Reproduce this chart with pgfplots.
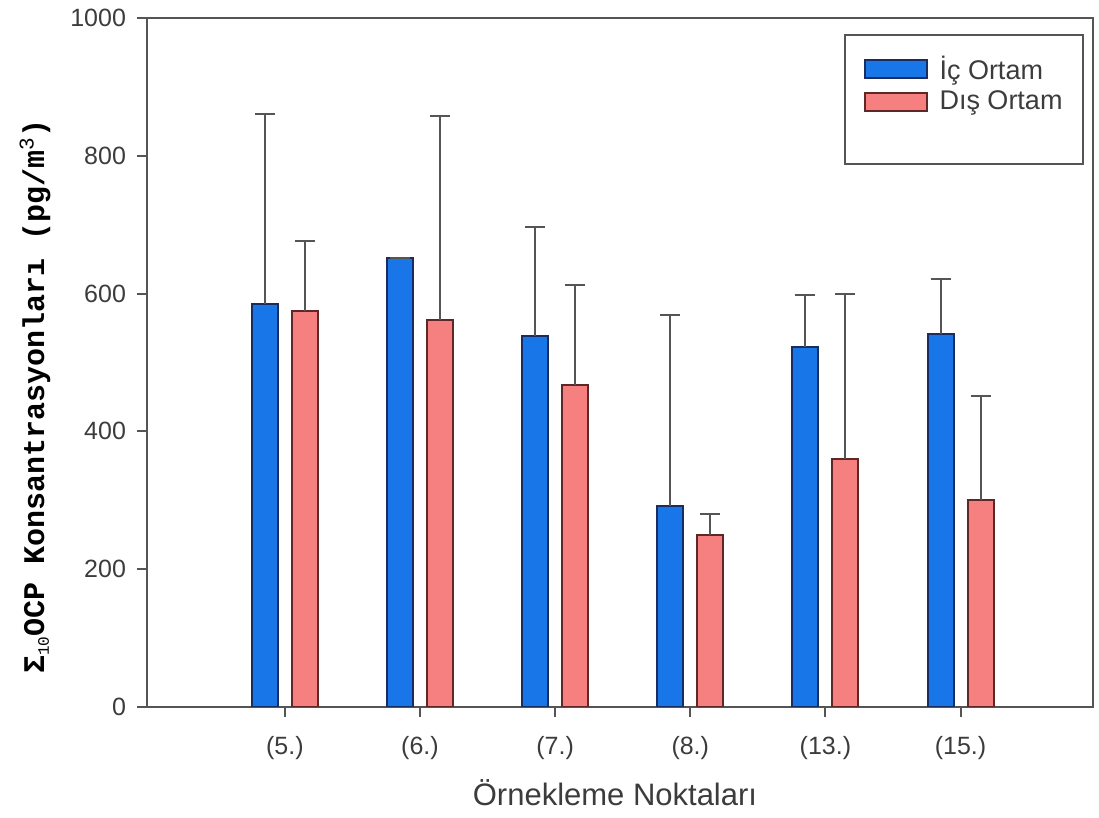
\documentclass[border=0pt]{standalone}
\usepackage{pgfplots}
\usepackage{pgfplotstable}
\pgfplotsset{compat=1.18}
\usepackage{fontspec}
\setmainfont{Liberation Sans}
\newfontfamily\monofont{Liberation Mono}
\definecolor{icblue}{RGB}{24,118,232}
\definecolor{icedge}{RGB}{25,45,95}
\definecolor{disred}{RGB}{246,128,128}
\definecolor{disedge}{RGB}{95,40,40}
\definecolor{axgray}{RGB}{85,85,85}
\definecolor{txtgray}{RGB}{60,60,60}
\pgfplotstableread{
x ic icerr dis diserr
0 585 276 575 102
1 652 0 562 296
2 539 158 467 145
3 292 277 249 31
4 523 75 360 240
5 542 79 301 150
}\datatable
\begin{document}
\begin{tikzpicture}
\useasboundingbox (-73.5pt,-55.5pt) rectangle (476pt,353.5pt);
\begin{axis}[
  scale only axis, width=473pt, height=344.5pt,
  ybar, bar width=13pt,
  xmin=-1.02, xmax=5.98, ymin=0, ymax=1000,
  xtick={0,...,5}, xticklabels={(5.),(6.),(7.),(8.),(13.),(15.)},
  ytick={0,200,...,1000},
  tick pos=left, tick align=outside, major tick length=5pt,
  axis line style={axgray, line width=1pt},
  every tick/.style={axgray, line width=1pt},
  tick label style={font=\fontsize{12.5}{14}\selectfont, text=txtgray},
  xticklabel style={yshift=-6pt},
  yticklabel style={xshift=-2pt},
  /pgf/number format/assume math mode=true,
  /pgf/number format/1000 sep={},
  xlabel={Örnekleme Noktaları},
  xlabel style={at={(axis description cs:0.4947,-0.1248)}, anchor=center, font=\fontsize{15.5}{17}\selectfont, text=txtgray},
  ylabel={{\monofont\bfseries Σ\raisebox{-0.3ex}{\fontsize{8}{8}\selectfont\mdseries 10}OCP Konsantrasyonları (pg/m\textsuperscript{\mdseries 3})}},
  ylabel style={at={(axis description cs:-0.1184,0.4507)}, anchor=center, font=\fontsize{15}{17}\selectfont, text=black},
  legend style={at={(axis description cs:0.757,0.951)}, anchor=north west, draw=none, fill=none, inner sep=0pt, row sep=0pt, column sep=4pt, font=\fontsize{13.5}{15}\selectfont, text=txtgray},
  legend cell align=left,
]
\addplot[fill=icblue, draw=icedge, line width=1pt, bar shift=-10pt,
  legend image code/.code={\draw[fill=icblue, draw=icedge, line width=1pt] (0pt,-4.5pt) rectangle (31pt,4.5pt);},
  error bars/.cd, y dir=plus, y explicit,
  error bar style={axgray, line width=1pt},
  error mark options={rotate=90, axgray, line width=1pt, mark size=5pt}]
  table[x=x, y=ic, y error=icerr] {\datatable};
\addlegendentry{İç Ortam}
\addplot[fill=disred, draw=disedge, line width=1pt, bar shift=10pt,
  legend image code/.code={\draw[fill=disred, draw=disedge, line width=1pt] (0pt,-4.5pt) rectangle (31pt,4.5pt);},
  error bars/.cd, y dir=plus, y explicit,
  error bar style={axgray, line width=1pt},
  error mark options={rotate=90, axgray, line width=1pt, mark size=5pt}]
  table[x=x, y=dis, y error=diserr] {\datatable};
\addlegendentry{Dış Ortam}
\draw[axgray, line width=1pt] (rel axis cs:0.738,0.975) rectangle (rel axis cs:0.9894,0.788);
\end{axis}
\end{tikzpicture}
\end{document}
